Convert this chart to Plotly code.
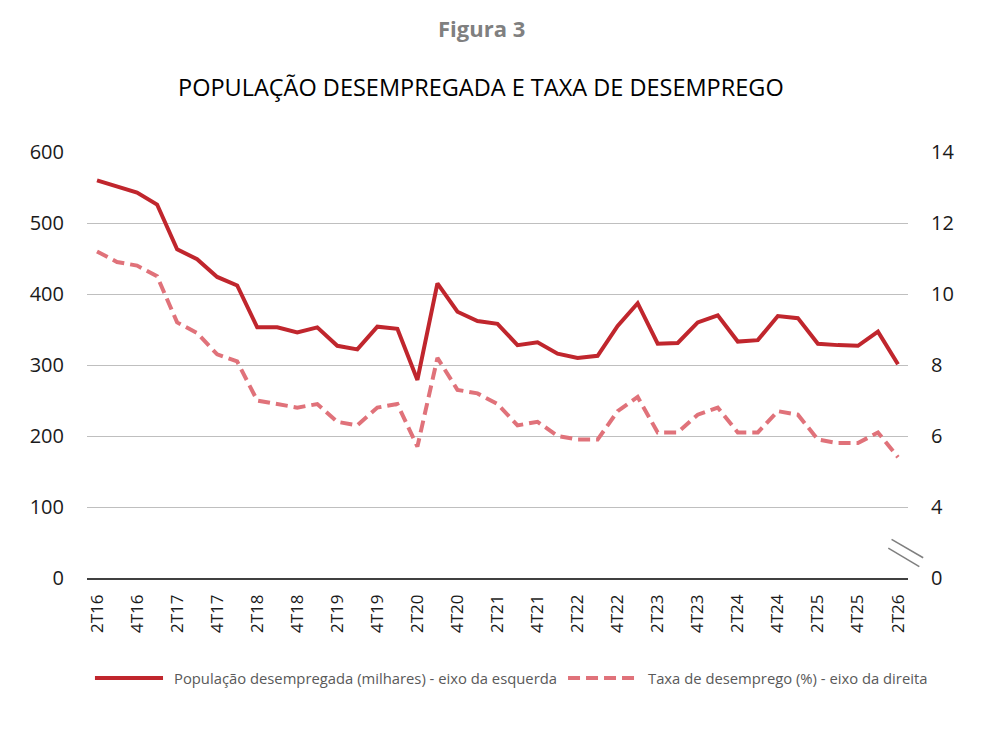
import plotly.graph_objects as go

# Quarters (categories) and series
quarters = [
    "2T16", "3T16", "4T16", "1T17", "2T17", "3T17", "4T17", "1T18", "2T18", "3T18",
    "4T18", "1T19", "2T19", "3T19", "4T19", "1T20", "2T20", "3T20", "4T20", "1T21",
    "2T21", "3T21", "4T21", "1T22", "2T22", "3T22", "4T22", "1T23", "2T23", "3T23",
    "4T23", "1T24", "2T24", "3T24", "4T24", "1T25", "2T25", "3T25", "4T25", "1T26",
    "2T26",
]

# População desempregada (milhares) - eixo da esquerda
desempregados = [
    560, 551, 543, 526, 463, 449, 424, 412, 353, 353,
    346, 353, 327, 322, 354, 351, 279, 415, 375, 362,
    358, 328, 332, 316, 310, 313, 355, 387, 330, 331,
    360, 370, 333, 335, 369, 366, 330, 328, 327, 347,
    301,
]

# Taxa de desemprego (%) - eixo da direita
taxa = [
    11.2, 10.9, 10.8, 10.5, 9.2, 8.9, 8.3, 8.1, 7.0, 6.9,
    6.8, 6.9, 6.4, 6.3, 6.8, 6.9, 5.7, 8.2, 7.3, 7.2,
    6.9, 6.3, 6.4, 6.0, 5.9, 5.9, 6.7, 7.1, 6.1, 6.1,
    6.6, 6.8, 6.1, 6.1, 6.7, 6.6, 5.9, 5.8, 5.8, 6.1,
    5.4,
]

left_ticks = [0, 100, 200, 300, 400, 500, 600]
right_ticks = [2, 4, 6, 8, 10, 12, 14]
right_ticktext = ["0", "4", "6", "8", "10", "12", "14"]

name_pop = 'População desempregada (milhares) - eixo da esquerda'
name_taxa = 'Taxa de desemprego (%) - eixo da direita'

FONT = "Open Sans"
RED = '#C0262D'
PINK = '#E0727A'
DASH = '12px,6px'

fig = go.Figure()

fig.add_trace(go.Scatter(
    x=quarters,
    y=desempregados,
    mode='lines',
    name=name_pop,
    line=dict(color=RED, width=4),
    cliponaxis=False
))

fig.add_trace(go.Scatter(
    x=quarters,
    y=taxa,
    mode='lines',
    name=name_taxa,
    line=dict(color=PINK, width=4, dash=DASH),
    yaxis='y2',
    cliponaxis=False
))

fig.update_layout(
    width=1007,
    height=732,
    margin=dict(l=79, r=107, t=144, b=162),
    paper_bgcolor='white',
    plot_bgcolor='white',
    font=dict(family=FONT, color='#1a1a1a'),
    showlegend=False,
    xaxis=dict(
        type='category',
        range=[-0.5, len(quarters) - 0.5],
        tickmode='array',
        tickvals=quarters[::2],
        tickangle=-90,
        tickfont=dict(size=17),
        ticklabelstandoff=8,
        showgrid=False,
        showline=True,
        linecolor='#404040',
        linewidth=1.5,
        zeroline=False,
    ),
    yaxis=dict(
        range=[0, 600],
        tickvals=left_ticks,
        tickfont=dict(size=20),
        ticklabelstandoff=22,
        showgrid=True,
        gridcolor='#BFBFBF',
        gridwidth=1.4,
        zeroline=False,
        showline=False,
    ),
    yaxis2=dict(
        overlaying='y',
        side='right',
        range=[2, 14],
        tickvals=right_ticks,
        ticktext=right_ticktext,
        tickfont=dict(size=20),
        ticklabelstandoff=22,
        showgrid=False,
        zeroline=False,
        showline=False,
    ),
)

# axis break marks on the right axis
for x0, y0, x1, y1 in [(0.980, 3.09, 1.0185, 2.57), (0.976, 2.84, 1.0138, 2.32)]:
    fig.add_shape(type='line', xref='paper', yref='y2', x0=x0, y0=y0, x1=x1, y1=y1,
                  line=dict(color='#7F7F7F', width=1.5))

# legend drawn below the plot (long line samples as in the original)
LEG_Y = -0.235
fig.add_shape(type='line', xref='paper', yref='paper', x0=0.0097, x1=0.0926, y0=LEG_Y, y1=LEG_Y,
              line=dict(color=RED, width=4))
fig.add_annotation(text=name_pop, xref='paper', yref='paper', x=0.1035, y=LEG_Y,
                   xanchor='left', yanchor='middle', showarrow=False,
                   font=dict(size=14.8, color='#595959'))
fig.add_shape(type='line', xref='paper', yref='paper', x0=0.5859, x1=0.6687, y0=LEG_Y, y1=LEG_Y,
              line=dict(color=PINK, width=4, dash=DASH))
fig.add_annotation(text=name_taxa, xref='paper', yref='paper', x=0.6809, y=LEG_Y,
                   xanchor='left', yanchor='middle', showarrow=False,
                   font=dict(size=14.8, color='#595959'))

fig.add_annotation(text='<b>Figura 3</b>', xref='paper', yref='paper', x=0.48, y=1.29,
                   showarrow=False, font=dict(size=22, color='#808080'), yanchor='middle')
fig.add_annotation(text='POPULAÇÃO DESEMPREGADA E TAXA DE DESEMPREGO', xref='paper', yref='paper',
                   x=0.48, y=1.152, showarrow=False, font=dict(size=23.5, color='#000000'),
                   yanchor='middle')

fig.write_html("out.html")
